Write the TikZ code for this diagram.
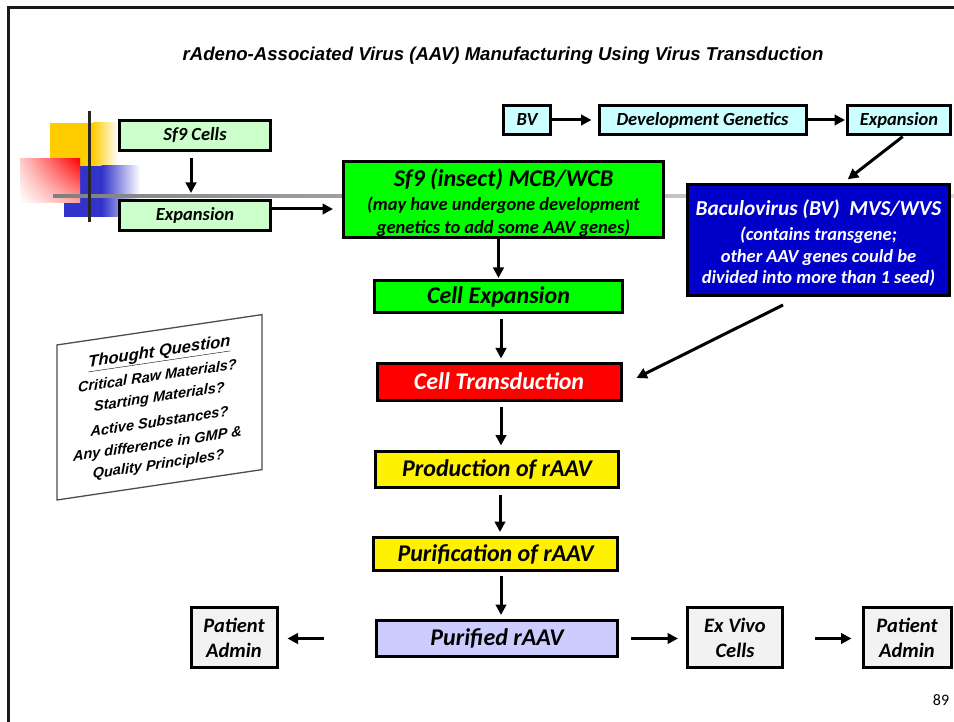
\documentclass[tikz,border=0pt]{standalone}
\usepackage{fontspec}
\setmainfont{Carlito}
\newfontfamily\arialf{Liberation Sans}
\usetikzlibrary{arrows.meta,shadings}
\definecolor{paleGreen}{HTML}{CCFFCC}
\definecolor{brightGreen}{HTML}{00FF00}
\definecolor{paleCyan}{HTML}{CCFFFF}
\definecolor{deepBlue}{HTML}{0000C8}
\definecolor{lavender}{HTML}{CCCCFF}
\definecolor{paleGray}{HTML}{F2F2F2}
\definecolor{tmplYellow}{HTML}{FFCC00}
\definecolor{tmplBlue}{HTML}{3333CC}
\pgfdeclarehorizontalshading{ruleFade}{100bp}{color(0bp)=(black); color(5bp)=(black!85); color(25bp)=(black!50); color(70bp)=(black!15); color(100bp)=(black!10)}
\newcommand{\fs}[2]{\fontsize{#1}{#2}\selectfont}
\tikzset{
  box/.style={draw=black, line width=3pt, inner sep=0pt, align=center},
  smallbox/.style={box, fill=paleCyan, minimum height=29pt, font=\bfseries\itshape\fs{18.5}{20}},
  chainbox/.style={box, font=\bfseries\itshape\fs{24}{26}},
  endbox/.style={box, fill=paleGray, minimum height=60pt, font=\bfseries\itshape\fs{20.5}{25}},
  arr/.style={line width=3pt, -{Triangle[length=10.5pt,width=10.5pt]}},
}
\begin{document}
\begin{tikzpicture}[x=1pt,y=-1pt]
\useasboundingbox (0,0) rectangle (954,722);
\fill[white] (0,0) rectangle (954,722);

% slide frame
\draw[line width=3pt, black!90] (8,722) -- (8,8) -- (954,8);

% template ornament
\fill[tmplYellow] (50,123) rectangle (93,167);
\shade[left color=tmplYellow, right color=white] (92.5,123) rectangle (118,167);
\fill[tmplBlue] (64,166) rectangle (102,217);
\shade[left color=tmplBlue, right color=white] (101.5,166) rectangle (140,217);
\shade[upper right=red, upper left=red!20, lower right=red!35, lower left=white] (20,159) rectangle (80,203);
\shade[shading=ruleFade] (53,194.5) rectangle (954,197.5);
\draw[line width=3pt, black!85] (89,111) -- (89,222);

% title
\node[font=\arialf\bfseries\itshape\fs{18.6}{21}] (title) at (503,56) {rAdeno-Associated Virus (AAV) Manufacturing Using Virus Transduction};

% cell line branch
\node[box, fill=paleGreen, minimum width=151pt, minimum height=30pt, font=\bfseries\itshape\fs{18.5}{20}] (sf9) at (195,135.5) {Sf9 Cells};
\node[box, fill=paleGreen, minimum width=151pt, minimum height=30pt, font=\bfseries\itshape\fs{18.5}{20}] (exp1) at (195,215.5) {Expansion};
\node[box, fill=brightGreen, minimum width=320pt, minimum height=76pt, font=\bfseries\itshape\fs{18.5}{23}] (mcb) at (503.5,199.5)
  {\rule{0pt}{25pt}{\fs{24}{25}Sf9 (insect) MCB/WCB}\\[1pt](may have undergone development\\genetics to add some AAV genes)};

% virus branch
\node[smallbox, minimum width=47pt] (bv) at (527,120) {BV};
\node[smallbox, minimum width=207pt] (dg) at (702.5,120) {Development Genetics};
\node[smallbox, minimum width=103pt] (exp2) at (899,120) {Expansion};
\node[box, fill=deepBlue, text=white, minimum width=262pt, minimum height=111pt, font=\bfseries\itshape\fs{18.5}{21.3}] (bac) at (818.5,240)
  {\rule{0pt}{22pt}{\fs{21.3}{23}Baculovirus (BV)\ \ MVS/WVS}\\[3.5pt](contains transgene;\\other AAV genes could be\\divided into more than 1 seed)};

% main process chain
\node[chainbox, fill=brightGreen, minimum width=248pt, minimum height=32pt] (cexp) at (498.5,296.5) {Cell Expansion};
\node[chainbox, fill=red, text=white, minimum width=244pt, minimum height=37pt] (trans) at (499,381.5) {Cell Transduction};
\node[chainbox, fill=yellow, minimum width=243pt, minimum height=36pt] (prod) at (497,469) {Production of rAAV};
\node[chainbox, fill=yellow, minimum width=244pt, minimum height=33pt] (puri) at (495.5,554) {Purification of rAAV};
\node[chainbox, fill=lavender, minimum width=241pt, minimum height=36pt] (pured) at (497,638.5) {Purified rAAV};

% use branches
\node[endbox, minimum width=86pt] (pa1) at (234,637.5) {Patient\\Admin};
\node[endbox, minimum width=95pt] (exv) at (735,637.5) {Ex Vivo\\Cells};
\node[endbox, minimum width=88pt] (pa2) at (907,637.5) {Patient\\Admin};

% connectors
\draw[arr, shorten <=6pt, shorten >=6pt] (sf9.south -| 191,0) -- (exp1.north -| 191,0);
\draw[arr, shorten >=9pt] ([yshift=6.5pt]exp1.east) -- ([yshift=6.5pt]exp1.east -| mcb.west);
\draw[arr, shorten >=6pt] (bv.east) -- (dg.west);
\draw[arr, shorten >=1pt] (dg.east) -- (exp2.west);
\draw[arr, shorten <=1pt, shorten >=6pt] ([xshift=4.5pt]exp2.south) -- ([xshift=24.5pt]bac.north);
\draw[arr] ([shift={(-35.5pt,-8pt)}]bac.south) -- ([shift={(14pt,3.5pt)}]trans.east);
\draw[arr, shorten >=1pt] (cexp.north |- mcb.south) -- (cexp.north);
\draw[arr, shorten <=5pt, shorten >=3pt] (cexp.south -| 501,0) -- (trans.north -| 501,0);
\draw[arr, shorten <=5pt, shorten >=4pt] (trans.south -| 501,0) -- (prod.north -| 501,0);
\draw[arr, shorten <=6pt, shorten >=4pt] (prod.south -| 500,0) -- (puri.north -| 500,0);
\draw[arr, shorten <=4pt, shorten >=4pt] (puri.south -| 501,0) -- (pured.north -| 501,0);
\draw[arr, shorten <=51pt, shorten >=9pt] (pured.west) -- (pa1.east |- pured.west);
\draw[arr, shorten <=12pt, shorten >=8pt] (pured.east) -- (exv.west |- pured.east);
\draw[arr, shorten <=31pt, shorten >=10pt] (exv.east |- pured.east) -- (pa2.west |- pured.east);

% slanted note card
\begin{scope}[shift={(159.5,407.3)}, yslant=0.148]
  \node[transform shape, draw=black!70, line width=1.3pt, fill=white, minimum width=205pt, minimum height=155pt, inner sep=0pt] (card) at (0,0) {};
  \begin{scope}[every node/.style={transform shape, font=\arialf\bfseries\itshape\fs{14.5}{17}}]
    \node[font=\arialf\bfseries\itshape\fs{16.5}{19}] (cq0) at (0,-54) {\underline{Thought Question}};
    \node (cq1) at (-2,-32) {Critical Raw Materials?};
    \node (cq2) at (0,-9.5) {Starting Materials?};
    \node (cq3) at (0,14) {Active Substances?};
    \node (cq4) at (-2,37.5) {Any difference in GMP \&};
    \node (cq5) at (-1,58) {Quality Principles?};
  \end{scope}
\end{scope}

% page number
\node[font=\fs{16}{18}] (pg) at (941,700) {89};
\end{tikzpicture}
\end{document}
